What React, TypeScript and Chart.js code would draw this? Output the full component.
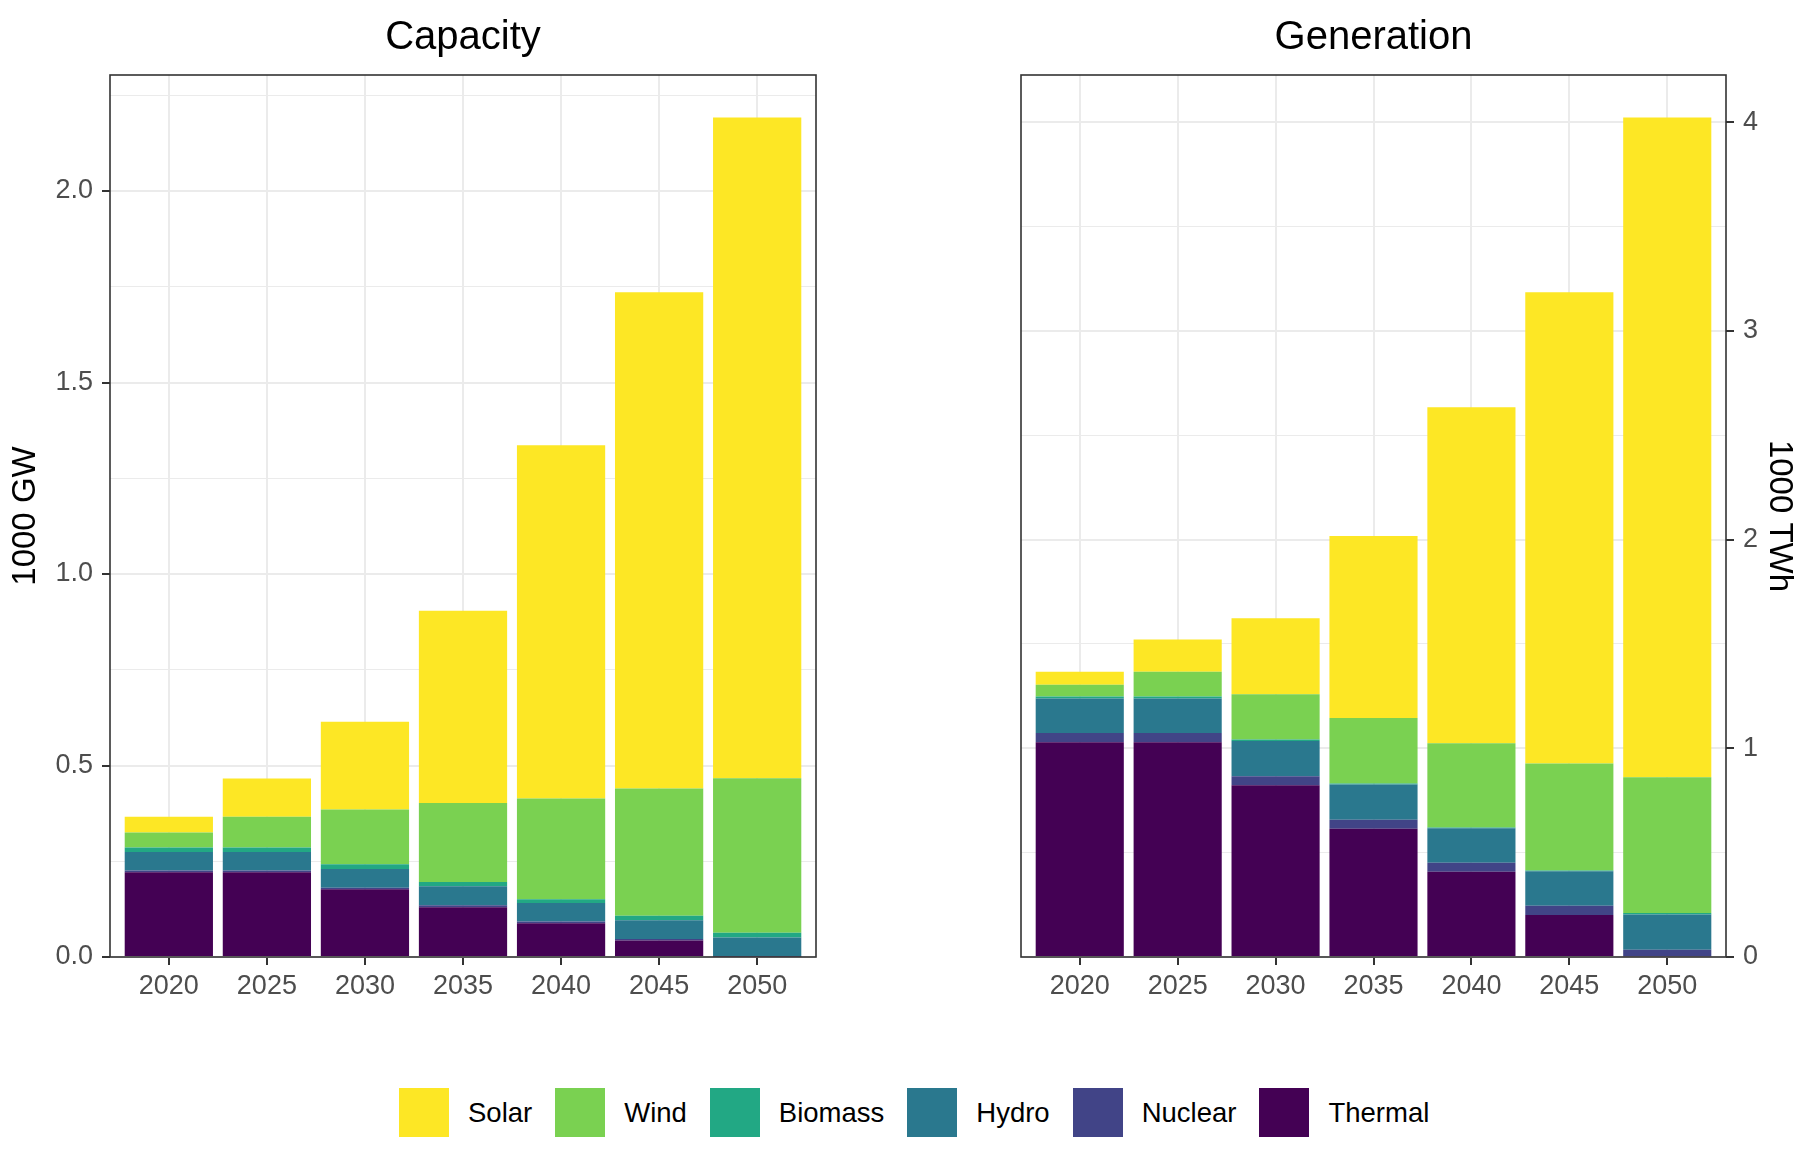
import React, { useEffect, useRef } from 'react';
import { Chart, registerables } from 'chart.js';

Chart.register(...registerables);

const FONT = "'Liberation Sans', Arial, Helvetica, sans-serif";

// ---------- data ----------
const years = [2020, 2025, 2030, 2035, 2040, 2045, 2050];

// stack order bottom -> top
const seriesNames = ['Thermal', 'Nuclear', 'Hydro', 'Biomass', 'Wind', 'Solar'];
const seriesColors = ['#440154', '#414487', '#2A788E', '#22A884', '#7AD151', '#FDE725'];
const legendNames = ['Solar', 'Wind', 'Biomass', 'Hydro', 'Nuclear', 'Thermal'];

// Capacity, 1000 GW
const capThermal = [0.221, 0.221, 0.177, 0.130, 0.088, 0.043, 0.001];
const capNuclear = [0.005, 0.005, 0.004, 0.005, 0.005, 0.004, 0.001];
const capHydro = [0.048, 0.048, 0.049, 0.050, 0.048, 0.049, 0.049];
const capBiomass = [0.012, 0.012, 0.012, 0.011, 0.010, 0.012, 0.012];
const capWind = [0.039, 0.080, 0.143, 0.206, 0.263, 0.332, 0.404];
const capSolar = [0.041, 0.100, 0.229, 0.502, 0.922, 1.296, 1.725];

// Generation, 1000 TWh
const genThermal = [1.029, 1.029, 0.823, 0.615, 0.409, 0.201, 0.003];
const genNuclear = [0.044, 0.044, 0.043, 0.043, 0.043, 0.045, 0.032];
const genHydro = [0.165, 0.165, 0.169, 0.168, 0.165, 0.165, 0.169];
const genBiomass = [0.010, 0.010, 0.007, 0.005, 0.004, 0.004, 0.007];
const genWind = [0.056, 0.119, 0.217, 0.314, 0.403, 0.512, 0.650];
const genSolar = [0.063, 0.154, 0.364, 0.872, 1.610, 2.258, 3.161];

const capacityTicks = [0, 0.25, 0.5, 0.75, 1.0, 1.25, 1.5, 1.75, 2.0, 2.25];
const capacityMajor = [0, 0.5, 1.0, 1.5, 2.0];
const generationTicks = [0, 0.5, 1, 1.5, 2, 2.5, 3, 3.5, 4];
const generationMajor = [0, 1, 2, 3, 4];

const capacitySeries = [capThermal, capNuclear, capHydro, capBiomass, capWind, capSolar];
const generationSeries = [genThermal, genNuclear, genHydro, genBiomass, genWind, genSolar];

// ---------- helpers ----------
const panelBorder = {
  id: 'panelBorder',
  afterDatasetsDraw(chart: any) {
    const { ctx, chartArea: a } = chart;
    ctx.save();
    ctx.strokeStyle = '#333333';
    ctx.lineWidth = 1.6;
    ctx.strokeRect(a.left, a.top, a.right - a.left, a.bottom - a.top);
    ctx.restore();
  },
};

const near = (list: number[], v: number) => list.some((m) => Math.abs(m - v) < 1e-9);

function makeConfig(opts: {
  title: string;
  series: number[][];
  yMax: number;
  yTicks: number[];
  yMajor: number[];
  yPos: 'left' | 'right';
  yTitle: string;
  yWidth: number;
  digits: number;
  padding: { left: number; right: number };
}): any {
  const datasets = opts.series.map((d, i) => ({
    label: seriesNames[i],
    data: d,
    backgroundColor: seriesColors[i],
    borderWidth: 0,
    barPercentage: 0.9,
    categoryPercentage: 1.0,
  }));
  return {
    type: 'bar',
    data: { labels: years, datasets },
    plugins: [panelBorder],
    options: {
      animation: false,
      responsive: true,
      maintainAspectRatio: false,
      layout: { padding: { left: opts.padding.left, right: opts.padding.right, top: 0, bottom: 0 } },
      plugins: {
        legend: { display: false },
        tooltip: { enabled: false },
        title: {
          display: true,
          text: opts.title,
          fullSize: false,
          color: '#000000',
          font: { family: FONT, size: 40, weight: 'normal', lineHeight: 1.2 },
          padding: { top: 13.5, bottom: 13.5 },
        },
      },
      scales: {
        x: {
          type: 'linear',
          stacked: true,
          min: 2017,
          max: 2053,
          offset: false,
          border: { display: false },
          afterBuildTicks: (scale: any) => {
            scale.ticks = years.map((v) => ({ value: v }));
          },
          afterFit: (scale: any) => {
            scale.height = 83;
          },
          grid: {
            offset: false,
            color: '#EBEBEB',
            lineWidth: 2,
            tickColor: '#333333',
            tickWidth: 2,
            tickLength: 8,
          },
          ticks: {
            autoSkip: false,
            maxRotation: 0,
            padding: 5,
            color: '#4D4D4D',
            font: { family: FONT, size: 27 },
            callback: (v: any) => String(v),
          },
        },
        y: {
          type: 'linear',
          position: opts.yPos,
          stacked: true,
          min: 0,
          max: opts.yMax,
          border: { display: false },
          afterBuildTicks: (scale: any) => {
            scale.ticks = opts.yTicks.map((v) => ({ value: v }));
          },
          afterFit: (scale: any) => {
            scale.width = opts.yWidth;
          },
          grid: {
            color: '#EBEBEB',
            lineWidth: (c: any) => (c.tick && near(opts.yMajor, c.tick.value) ? 2 : 1),
            tickColor: (c: any) =>
              c.tick && near(opts.yMajor, c.tick.value) ? '#333333' : 'rgba(0,0,0,0)',
            tickWidth: 2,
            tickLength: 8,
          },
          ticks: {
            autoSkip: false,
            padding: 9,
            color: '#4D4D4D',
            font: { family: FONT, size: 27 },
            callback: (v: any) => (near(opts.yMajor, Number(v)) ? Number(v).toFixed(opts.digits) : ''),
          },
          title: {
            display: true,
            text: opts.yTitle,
            color: '#000000',
            font: { family: FONT, size: 33, lineHeight: 1.2 },
            padding: { top: 6, bottom: 0 },
          },
        },
      },
    },
  };
}

function ChartBox(props: { config: any; style: React.CSSProperties }) {
  const ref = useRef<HTMLCanvasElement | null>(null);
  useEffect(() => {
    if (!ref.current) return;
    const chart = new Chart(ref.current, props.config);
    return () => chart.destroy();
  }, []);
  return (
    <div style={{ position: 'absolute', ...props.style }}>
      <canvas ref={ref} />
    </div>
  );
}

export default function App() {
  const capConfig = makeConfig({
    title: 'Capacity',
    series: capacitySeries,
    yMax: 2.303,
    yTicks: capacityTicks,
    yMajor: capacityMajor,
    yPos: 'left',
    yTitle: '1000 GW',
    yWidth: 110,
    digits: 1,
    padding: { left: 0, right: 44 },
  });
  const genConfig = makeConfig({
    title: 'Generation',
    series: generationSeries,
    yMax: 4.226,
    yTicks: generationTicks,
    yMajor: generationMajor,
    yPos: 'right',
    yTitle: '1000 TWh',
    yWidth: 79,
    digits: 0,
    padding: { left: 61, right: 0 },
  });

  return (
    <div
      style={{
        position: 'absolute',
        left: 0,
        top: 0,
        width: 1805,
        height: 1161,
        background: '#ffffff',
        overflow: 'hidden',
        fontFamily: FONT,
      }}
    >
      <ChartBox config={capConfig} style={{ left: 0, top: 0, width: 860, height: 1040 }} />
      <ChartBox config={genConfig} style={{ left: 960, top: 0, width: 845, height: 1040 }} />
      <div
        style={{
          position: 'absolute',
          left: 399,
          top: 1088,
          height: 49,
          display: 'flex',
          alignItems: 'center',
        }}
      >
        {legendNames.map((name) => {
          const idx = seriesNames.indexOf(name);
          return (
            <div key={name} style={{ display: 'flex', alignItems: 'center', marginRight: 23 }}>
              <div style={{ width: 50, height: 49, background: seriesColors[idx], marginRight: 19 }} />
              <span style={{ fontSize: 27.5, color: '#000000', whiteSpace: 'nowrap' }}>{name}</span>
            </div>
          );
        })}
      </div>
    </div>
  );
}
